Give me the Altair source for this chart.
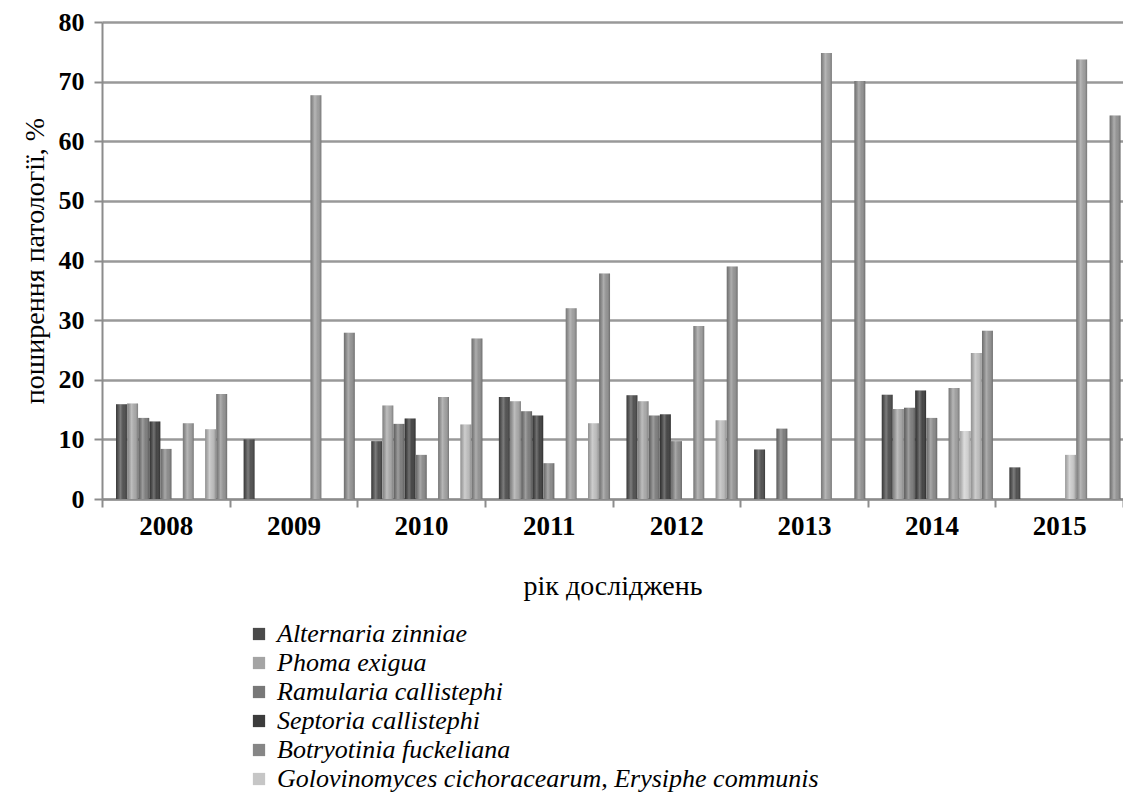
import altair as alt
import pandas as pd

years = ["2008", "2009", "2010", "2011", "2012", "2013", "2014", "2015"]

series = [
    "Alternaria zinniae",
    "Phoma exigua",
    "Ramularia callistephi",
    "Septoria callistephi",
    "Botryotinia fuckeliana",
    "Golovinomyces cichoracearum, Erysiphe communis",
    "series 7",
    "series 8",
    "series 9",
    "series 10",
]

alternaria = [15.9, 10.0, 9.7, 17.1, 17.4, 8.3, 17.5, 5.3]
phoma = [16.0, 0.0, 15.7, 16.4, 16.4, 0.0, 15.1, 0.0]
ramularia = [13.6, 0.0, 12.6, 14.7, 14.0, 11.8, 15.3, 0.0]
septoria = [13.0, 0.0, 13.5, 14.0, 14.2, 0.0, 18.2, 0.0]
botryotinia = [8.4, 0.0, 7.4, 6.0, 9.7, 0.0, 13.6, 0.0]
golovinomyces = [0.0, 0.0, 0.0, 0.0, 0.0, 0.0, 0.0, 7.4]
series7 = [12.7, 67.7, 17.1, 32.0, 29.0, 74.8, 18.6, 73.7]
series8 = [0.0, 0.0, 0.0, 0.0, 0.0, 0.0, 11.4, 0.0]
series9 = [11.7, 0.0, 12.5, 12.7, 13.2, 0.0, 24.5, 0.0]
series10 = [17.6, 27.9, 26.9, 37.8, 39.0, 70.1, 28.2, 64.3]

all_values = [alternaria, phoma, ramularia, septoria, botryotinia,
              golovinomyces, series7, series8, series9, series10]

colors = ["#4a4a4a", "#a4a4a4", "#787878", "#3c3c3c", "#868686",
          "#c6c6c6", "#9a9a9a", "#cfcfcf", "#bababa", "#8e8e8e"]

y_ticks = [0, 10, 20, 30, 40, 50, 60, 70, 80]

rows = []
for name, vals in zip(series, all_values):
    for yr, v in zip(years, vals):
        rows.append({"year": yr, "series": name, "value": v})
df = pd.DataFrame(rows)

serif = "Times New Roman, Liberation Serif, DejaVu Serif, serif"
grey = "#8c8c8c"

x_enc = alt.X(
    "year:N",
    sort=years,
    title="рік досліджень",
    scale=alt.Scale(paddingInner=0, paddingOuter=0),
    axis=alt.Axis(
        labelAngle=0,
        tickBand="extent",
        labelFont=serif,
        labelFontSize=27,
        labelFontWeight="bold",
        labelColor="black",
        labelPadding=6,
        titleFont=serif,
        titleFontSize=28,
        titleFontWeight="normal",
        titleColor="black",
        titlePadding=33,
        grid=False,
    ),
)
xo_enc = alt.XOffset(
    "series:N",
    sort=series,
    scale=alt.Scale(paddingOuter=0.74, paddingInner=0.02, align=0.85),
)
y_enc = alt.Y(
    "value:Q",
    title="поширення патології, %",
    scale=alt.Scale(domain=[0, 80], nice=False),
    axis=alt.Axis(
        values=y_ticks,
        labelFont=serif,
        labelFontSize=26,
        labelFontWeight="bold",
        labelColor="black",
        labelPadding=10,
        titleFont=serif,
        titleFontSize=28,
        titleFontWeight="normal",
        titleColor="black",
        titlePadding=9,
        grid=True,
    ),
)

base = alt.Chart(df).encode(x=x_enc, xOffset=xo_enc, y=y_enc)

bars = base.mark_bar(cornerRadius=0).encode(
    color=alt.Color(
        "series:N",
        sort=series,
        scale=alt.Scale(domain=series, range=colors),
        legend=alt.Legend(
            title=None,
            values=series[:6],
            orient="none",
            legendX=144,
            legendY=599,
            symbolType="square",
            symbolSize=150,
            symbolStrokeWidth=0,
            labelFont=serif,
            labelFontSize=26,
            labelFontStyle="italic",
            labelColor="black",
            labelOffset=5,
            rowPadding=3,
            labelLimit=900,
            padding=0,
        ),
    )
)

shade = base.mark_bar(
    color=alt.Gradient(
        gradient="linear",
        x1=0, x2=1, y1=0, y2=0,
        stops=[
            alt.GradientStop(color="rgba(0,0,0,0.22)", offset=0),
            alt.GradientStop(color="rgba(255,255,255,0.28)", offset=0.4),
            alt.GradientStop(color="rgba(255,255,255,0.05)", offset=0.65),
            alt.GradientStop(color="rgba(0,0,0,0.25)", offset=1),
        ],
    )
)

chart = (
    alt.layer(bars, shade)
    .properties(
        width=1021,
        height=477,
        autosize=alt.AutoSizeParams(type="none"),
        padding={"left": 94, "top": 14, "right": 0, "bottom": 295},
    )
    .configure_view(strokeWidth=0)
    .configure_axis(
        domainColor=grey,
        domainWidth=2,
        tickColor=grey,
        tickWidth=2,
        tickSize=8,
        gridColor="#999999",
        gridWidth=2.5,
    )
)

chart.save("out.html", embed_options={"renderer": "svg", "actions": False})
